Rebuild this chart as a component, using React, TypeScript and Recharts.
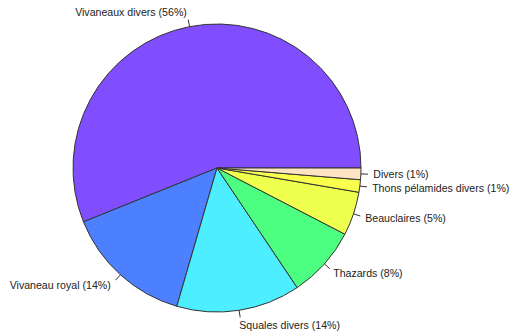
import { PieChart, Pie, Cell } from "recharts";

const species = [
  "Vivaneaux divers",
  "Vivaneau royal",
  "Squales divers",
  "Thazards",
  "Beauclaires",
  "Thons pélamides divers",
  "Divers",
];

const shares = [56.1, 14.4, 13.9, 8.0, 4.9, 1.4, 1.3];

const pctLabels = ["56%", "14%", "14%", "8%", "5%", "1%", "1%"];

const COLORS = [
  "#804DFF",
  "#4D80FF",
  "#4DEEFF",
  "#4DFF80",
  "#EEFF4D",
  "#F8FF4D",
  "#FFE4C4",
];

const data = species.map((name, i) => ({
  name,
  value: shares[i],
  label: `${name} (${pctLabels[i]})`,
}));

const RADIAN = Math.PI / 180;

const renderLabel = (props: any) => {
  const { cx, cy, midAngle, outerRadius, index } = props;
  const cos = Math.cos(-midAngle * RADIAN);
  const sin = Math.sin(-midAngle * RADIAN);
  const r1 = outerRadius;
  const r2 = outerRadius * 1.05;
  const r3 = outerRadius * 1.1;
  return (
    <g>
      <line
        x1={cx + r1 * cos}
        y1={cy + r1 * sin}
        x2={cx + r2 * cos}
        y2={cy + r2 * sin}
        stroke="#333"
        strokeWidth={1}
      />
      <text
        x={cx + r3 * cos - (cos >= 0 ? 2 : 0)}
        y={cy + r3 * sin}
        textAnchor={cos >= 0 ? "start" : "end"}
        dominantBaseline="central"
        fill="#222"
        fontSize={10.6}
        fontFamily="'Liberation Sans', Arial, sans-serif"
      >
        {data[index].label}
      </text>
    </g>
  );
};

export default function App() {
  return (
    <div style={{ width: 512, height: 333, background: "#fff" }}>
      <style>{`body{margin:0}`}</style>
      <PieChart width={512} height={333} margin={{ top: 0, right: 0, bottom: 0, left: 0 }}>
        <Pie
          data={data}
          dataKey="value"
          nameKey="name"
          cx={217}
          cy={168}
          outerRadius={144}
          startAngle={0}
          endAngle={360}
          stroke="#333"
          strokeWidth={1}
          label={renderLabel}
          labelLine={false}
          isAnimationActive={false}
        >
          {data.map((entry, index) => (
            <Cell key={index} fill={COLORS[index]} />
          ))}
        </Pie>
      </PieChart>
    </div>
  );
}
